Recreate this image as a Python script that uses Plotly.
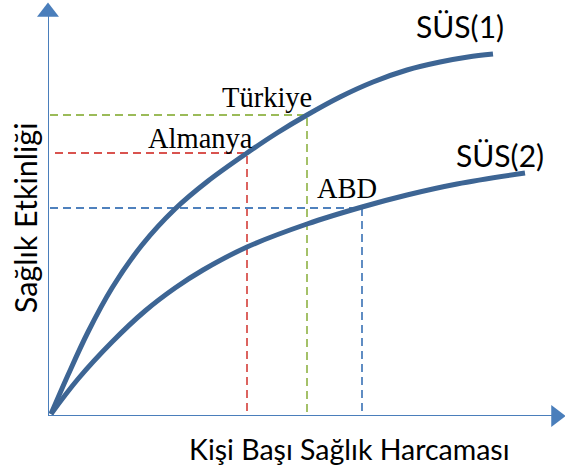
import plotly.graph_objects as go

# curve readings (x: spending, y: effectiveness), in chart units
sus1_x = [3, 20, 40, 64, 94, 127, 160, 199, 229, 259, 292, 325, 359, 392, 420, 445]
sus1_y = [2, 41, 84, 128, 171, 207, 235, 263, 283, 301, 319, 334, 346, 354, 359, 362]
sus2_x = [3, 30, 64, 97, 127, 155, 199, 259, 314, 359, 409, 477]
sus2_y = [2, 37, 74, 105, 128, 146, 169, 192, 209, 221, 232, 243]

countries = ['Almanya', 'Türkiye', 'ABD']
country_x = [199, 259, 314]
country_y = [263, 301, 208]
guide_start = [7, 2, 2]
guide_colors = ['#d9534f', '#9bbb59', '#4f81bd']

curve_color = '#3d6594'
axis_color = '#4a7ebb'

fig = go.Figure()

for name, cx, cy, x0, col in zip(countries, country_x, country_y, guide_start, guide_colors):
    fig.add_trace(go.Scatter(x=[x0, cx, cx], y=[cy, cy, 0], mode='lines',
                             line=dict(color=col, width=1.8, dash='8px,5px'),
                             hoverinfo='skip'))

fig.add_trace(go.Scatter(x=sus1_x, y=sus1_y, mode='lines',
                         line=dict(color=curve_color, width=5, shape='spline', smoothing=1)))
fig.add_trace(go.Scatter(x=sus2_x, y=sus2_y, mode='lines',
                         line=dict(color=curve_color, width=5, shape='spline', smoothing=1)))

# axis arrowheads
fig.add_trace(go.Scatter(x=[0], y=[404], mode='markers', cliponaxis=False,
                         marker=dict(symbol='triangle-up', size=19, color=axis_color)))
fig.add_trace(go.Scatter(x=[508], y=[0], mode='markers', cliponaxis=False,
                         marker=dict(symbol='triangle-right', size=19, color=axis_color)))

fig.add_shape(type='line', x0=0, y0=0, x1=0, y1=400, line=dict(color=axis_color, width=2))
fig.add_shape(type='line', x0=0, y0=0, x1=505, y1=0, line=dict(color=axis_color, width=2))

serif = dict(family='Liberation Serif', size=28.5, color='black')
sans = dict(family='Lato', size=30, color='black')

label_pos = {'Almanya': (152, 278), 'Türkiye': (219, 319), 'ABD': (299, 228)}
for name in countries:
    lx, ly = label_pos[name]
    fig.add_annotation(x=lx, y=ly, text=name, showarrow=False, font=serif,
                       xanchor='center', yanchor='middle')

fig.add_annotation(x=412, y=390, text='SÜS(1)', showarrow=False, font=sans)
fig.add_annotation(x=452, y=261, text='SÜS(2)', showarrow=False, font=sans)
fig.add_annotation(x=0.584, y=-0.079, xref='paper', yref='paper', xanchor='center',
                   yanchor='middle', text='Kişi Başı Sağlık Harcaması', showarrow=False,
                   font=dict(family='Lato', size=28.5, color='black'))
fig.add_annotation(x=-0.0445, y=0.478, xref='paper', yref='paper', xanchor='center',
                   yanchor='middle', text='Sağlık Etkinliği', showarrow=False,
                   font=dict(family='Lato', size=30.5, color='black'), textangle=-90)

fig.update_xaxes(range=[0, 517], visible=False)
fig.update_yaxes(range=[0, 416], visible=False)
fig.update_layout(width=565, height=472, margin=dict(l=48, r=0, t=0, b=56),
                  plot_bgcolor='white', paper_bgcolor='white', showlegend=False)

fig.write_html('out.html', config={'displayModeBar': False},
               post_script="document.body.style.margin='0';")
